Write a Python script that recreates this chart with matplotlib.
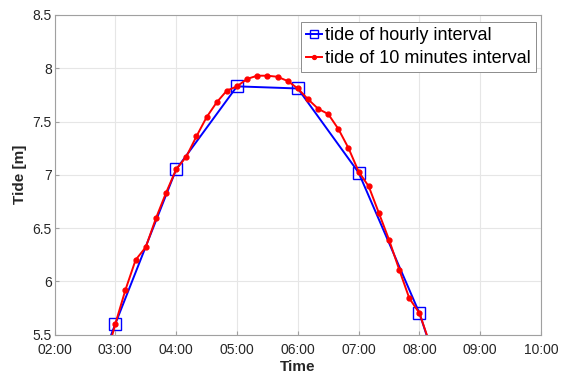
import matplotlib
matplotlib.use("Agg")
import matplotlib.pyplot as plt
import matplotlib.dates as mdates
from matplotlib.ticker import FuncFormatter
import pandas as pd

# hourly tide readings
hourly_times = ["02:00", "03:00", "04:00", "05:00", "06:00", "07:00", "08:00", "09:00"]
hourly_tide = [4.10, 5.60, 7.05, 7.83, 7.81, 7.02, 5.70, 3.95]

# 10 minute tide readings
tenmin_times = ["02:50", "03:00", "03:10", "03:20", "03:30", "03:40", "03:50",
                "04:00", "04:10", "04:20", "04:30", "04:40", "04:50",
                "05:00", "05:10", "05:20", "05:30", "05:40", "05:50",
                "06:00", "06:10", "06:20", "06:30", "06:40", "06:50",
                "07:00", "07:10", "07:20", "07:30", "07:40", "07:50",
                "08:00", "08:10"]
tenmin_tide = [5.25, 5.60, 5.92, 6.20, 6.32, 6.59, 6.83,
               7.05, 7.17, 7.36, 7.54, 7.68, 7.79,
               7.83, 7.90, 7.93, 7.93, 7.92, 7.88,
               7.81, 7.71, 7.62, 7.57, 7.43, 7.25,
               7.03, 6.89, 6.64, 6.39, 6.11, 5.84,
               5.70, 5.42]

x_range = ["02:00", "10:00"]
tick_times = ["02:00", "03:00", "04:00", "05:00", "06:00", "07:00", "08:00", "09:00", "10:00"]
y_ticks = [5.5, 6, 6.5, 7, 7.5, 8, 8.5]


def to_time(labels):
    return pd.to_datetime(["2000-01-01 " + t for t in labels])


plt.rcParams['font.family'] = ['Liberation Sans', 'DejaVu Sans']

fig = plt.figure(figsize=(5.66, 3.74), dpi=100)
ax = fig.add_axes([0.0963, 0.1056, 0.8597, 0.8543])

ax.plot(to_time(hourly_times), hourly_tide, color='#0000ff', linewidth=1.4,
        marker='s', markersize=8, markerfacecolor='none', markeredgecolor='#0000ff',
        markeredgewidth=1.0, label='tide of hourly interval')
ax.plot(to_time(tenmin_times), tenmin_tide, color='#ff0000', linewidth=1.4,
        marker='o', markersize=3.5, label='tide of 10 minutes interval')

xr = to_time(x_range)
ax.set_xlim(xr[0], xr[1])
ax.set_ylim(y_ticks[0], y_ticks[-1])
ax.set_xticks(to_time(tick_times))
ax.xaxis.set_major_formatter(mdates.DateFormatter('%H:%M'))
ax.set_yticks(y_ticks)
ax.yaxis.set_major_formatter(FuncFormatter(lambda v, p: '%g' % v))

ax.grid(True, color='#e6e6e6', linewidth=0.8)
ax.set_axisbelow(True)
for s in ax.spines.values():
    s.set_color('#a0a0a0')
    s.set_linewidth(0.8)
ax.tick_params(direction='in', length=3, color='#a0a0a0', labelsize=10,
               labelcolor='#262626')
ax.tick_params(axis='x', pad=6)
ax.tick_params(axis='y', pad=2)

ax.set_xlabel('Time', fontsize=11, fontweight='bold', color='#262626', labelpad=2)
ax.set_ylabel('Tide [m]', fontsize=11, fontweight='bold', color='#262626', labelpad=4)

leg = ax.legend(loc='upper right', bbox_to_anchor=(0.99, 0.978), fontsize=13,
                frameon=True, fancybox=False, edgecolor='#8c8c8c', framealpha=1,
                borderpad=0.3, labelspacing=0.3, handlelength=0.9,
                handletextpad=0.15, borderaxespad=0.0, markerscale=0.8)
leg.get_frame().set_linewidth(0.7)

fig.savefig('out.png', dpi=100)
